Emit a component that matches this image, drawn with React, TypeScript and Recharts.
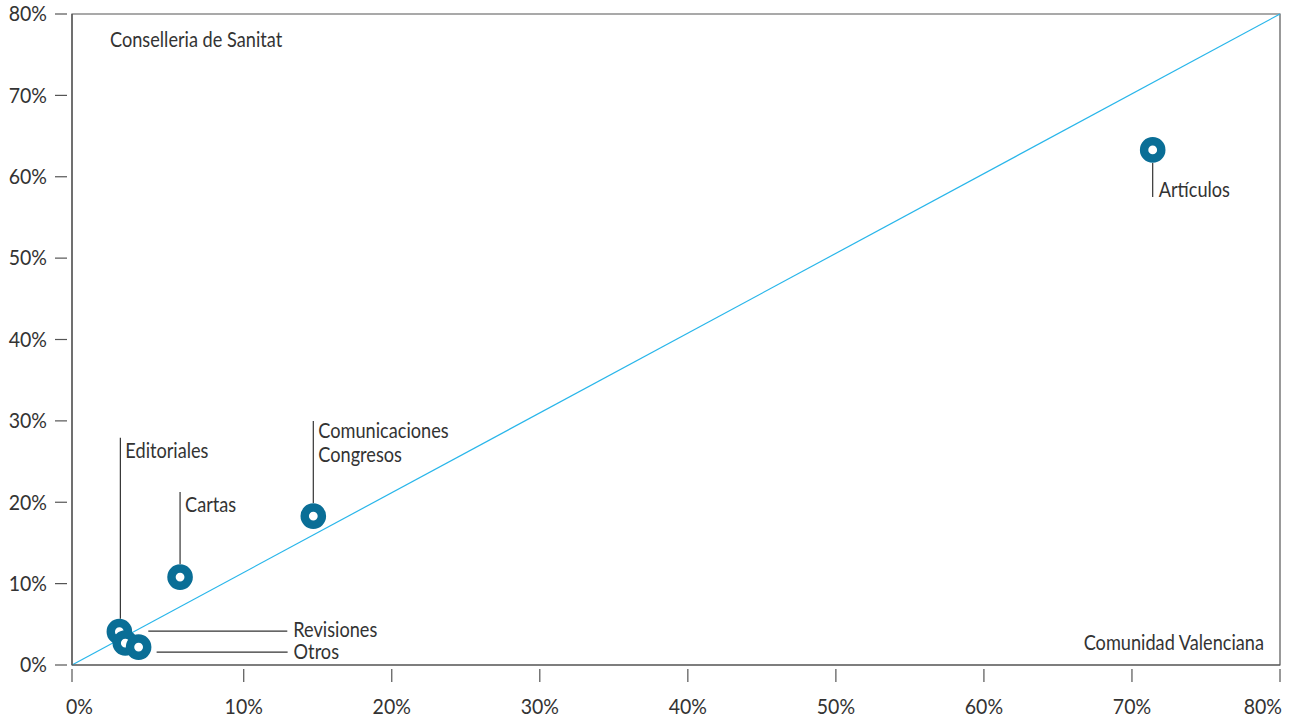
import { ScatterChart, Scatter, XAxis, YAxis, ReferenceLine, ReferenceArea } from "recharts";

// share of each publication type: Comunidad Valenciana (x) vs Conselleria de Sanitat (y)
const categories = ["Artículos", "Comunicaciones Congresos", "Cartas", "Editoriales", "Revisiones", "Otros"];
const comunidadValenciana = [71.4, 14.7, 5.7, 1.6, 2.0, 2.9];
const conselleriaSanitat = [63.3, 18.3, 10.8, 4.1, 2.7, 2.2];

// the source axis starts a bit before 0 and labels that origin "0%"
const X_START = -1.6;
const xTickValues = [X_START, 10, 20, 30, 40, 50, 60, 70, 80];
const xTickLabels = ["0%", "10%", "20%", "30%", "40%", "50%", "60%", "70%", "80%"];
const yTickValues = [0, 10, 20, 30, 40, 50, 60, 70, 80];
const yTickLabels = ["0%", "10%", "20%", "30%", "40%", "50%", "60%", "70%", "80%"];

const FONT = "Lato, 'Open Sans', sans-serif";
const FONT_SIZE = 21;
const TEXT = "#333333";
const AXIS = "#555555";
const RING = "#0a6e96";
const WORD_SCALE = 0.865; // the original face is condensed
const NUM_SCALE = 0.93;

const data = categories.map((name, i) => ({
  name,
  x: comunidadValenciana[i],
  y: conselleriaSanitat[i],
}));

// leader line + text placement, relative to each point
const callouts: Record<string, { line: number[]; text: number[]; lines: string[] }> = {
  "Artículos": { line: [0, 13, 0, 47], text: [6, 39], lines: ["Artículos"] },
  "Comunicaciones Congresos": { line: [0, -13, 0, -95], text: [5, -86], lines: ["Comunicaciones", "Congresos"] },
  "Cartas": { line: [0, -13, 0, -85], text: [5, -73], lines: ["Cartas"] },
  "Editoriales": { line: [1, -13, 1, -194], text: [6, -182], lines: ["Editoriales"] },
  "Revisiones": { line: [23, -12, 162, -12], text: [168, -14], lines: ["Revisiones"] },
  "Otros": { line: [18, 5, 149, 5], text: [155, 4], lines: ["Otros"] },
};

type TxtProps = { x: number; y: number; sx?: number; anchor?: "start" | "middle" | "end"; children: string };

const Txt = ({ x, y, sx = WORD_SCALE, anchor = "start", children }: TxtProps) => (
  <text
    transform={`translate(${x},${y}) scale(${sx},1)`}
    textAnchor={anchor}
    dominantBaseline="central"
    fill={TEXT}
    fontSize={FONT_SIZE}
    fontFamily={FONT}
  >
    {children}
  </text>
);

// eslint-disable-next-line @typescript-eslint/no-explicit-any
const RingShape = (props: any) => {
  const { cx, cy, payload } = props;
  const c = callouts[payload.name];
  return (
    <g>
      <line x1={cx + c.line[0]} y1={cy + c.line[1]} x2={cx + c.line[2]} y2={cy + c.line[3]} stroke={TEXT} strokeWidth={1.2} />
      <circle cx={cx} cy={cy} r={8.6} fill="#fff" stroke={RING} strokeWidth={8.4} />
      {c.lines.map((t, i) => (
        <Txt key={t} x={cx + c.text[0]} y={cy + c.text[1] + i * 24}>
          {t}
        </Txt>
      ))}
    </g>
  );
};

// eslint-disable-next-line @typescript-eslint/no-explicit-any
const XTick = (props: any) => {
  const { x, y, index } = props;
  const last = index === xTickLabels.length - 1;
  const anchor = index === 0 ? "start" : last ? "end" : "middle";
  const tx = index === 0 ? x - 6 : last ? x + 2 : x;
  return (
    <g>
      <line x1={x} y1={y - 4} x2={x} y2={y + 9} stroke={AXIS} strokeWidth={1.2} />
      <Txt x={tx} y={y + 33} sx={NUM_SCALE} anchor={anchor}>
        {xTickLabels[index]}
      </Txt>
    </g>
  );
};

// eslint-disable-next-line @typescript-eslint/no-explicit-any
const YTick = (props: any) => {
  const { y, index } = props;
  return (
    <g>
      <line x1={55} y1={y} x2={67} y2={y} stroke={AXIS} strokeWidth={1.2} />
      <Txt x={47} y={y - 1} sx={NUM_SCALE} anchor="end">
        {yTickLabels[index]}
      </Txt>
    </g>
  );
};

// eslint-disable-next-line @typescript-eslint/no-explicit-any
const CornerLabels = (props: any) => {
  const { x, y, width, height } = props.viewBox;
  return (
    <g>
      <Txt x={x + 38} y={y + 25}>Conselleria de Sanitat</Txt>
      <Txt x={x + width - 16} y={y + height - 23} anchor="end">
        Comunidad Valenciana
      </Txt>
    </g>
  );
};

export default function App() {
  return (
    <div style={{ position: "absolute", left: 0, top: 0, background: "#fff" }}>
      <ScatterChart width={1293} height={719} margin={{ top: 14, right: 13, left: 0, bottom: 0 }}>
        <XAxis
          type="number"
          dataKey="x"
          domain={[X_START, 80]}
          ticks={xTickValues}
          height={54}
          axisLine={{ stroke: AXIS, strokeWidth: 1.2 }}
          tickLine={false}
          tick={<XTick />}
          interval={0}
          allowDataOverflow
        />
        <YAxis
          type="number"
          dataKey="y"
          domain={[0, 80]}
          ticks={yTickValues}
          width={72}
          axisLine={{ stroke: AXIS, strokeWidth: 1.2 }}
          tickLine={false}
          tick={<YTick />}
          interval={0}
        />
        <ReferenceArea
          x1={X_START}
          x2={80}
          y1={0}
          y2={80}
          fill="none"
          stroke={AXIS}
          strokeWidth={1.2}
          label={<CornerLabels />}
        />
        <ReferenceLine
          segment={[
            { x: X_START, y: 0 },
            { x: 80, y: 80 },
          ]}
          stroke="#29b6ea"
          strokeWidth={1.2}
        />
        <Scatter data={data} shape={<RingShape />} isAnimationActive={false} />
      </ScatterChart>
    </div>
  );
}
